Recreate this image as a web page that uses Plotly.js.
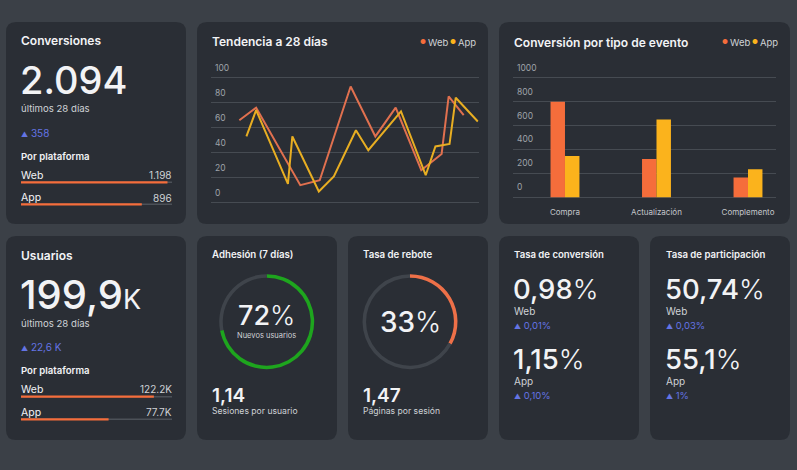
<!DOCTYPE html>
<html>
<head>
<meta charset="utf-8">
<script src="https://cdn.plot.ly/plotly-3.0.1.min.js"></script>
<style>
  html,body{margin:0;padding:0;background:#3b4047;}
  #chart{width:797px;height:470px;}
</style>
</head>
<body>
<div id="chart"></div>
<script>
// ---------------- DATA ----------------
const trendDaysWeb = [0, 1.9, 6.9, 9.1, 12.6, 15.4, 17.7, 20.6, 22.9, 23.7, 25.4];
const trendWeb     = [66, 76, 14, 18, 93, 53, 76, 26, 39, 85, 70];
const trendDaysApp = [0.8, 1.9, 5.5, 6.0, 9.0, 10.7, 13.2, 14.6, 18.3, 21.1, 22.2, 23.8, 24.5, 27.0];
const trendApp     = [53, 74, 15, 53, 9, 21, 58, 42, 73, 22, 45, 47, 84, 65];
const trendTicks   = [0, 20, 40, 60, 80, 100];

const eventCategories = ['Compra', 'Actualización', 'Complemento'];
const eventWeb = [800, 320, 165];
const eventApp = [345, 650, 235];
const eventTicks = [0, 200, 400, 600, 800, 1000];

const platforms = ['Web', 'App'];
const convPlatformLabels = ['1.198', '896'];
const convPlatformBar = [97, 80];
const userPlatformLabels = ['122.2K', '77.7K'];
const userPlatformBar = [88, 58];

const adhesionPct = 72;
const bouncePct = 33;

// ---------------- STYLE ----------------
const W = 797, H = 470;
const FONT = 'Inter, "Noto Sans", sans-serif';
const BG = '#3b4047', CARD = '#2a2e35';
const WHITE = '#f2f3f5', SUB = '#cfd2d6', BLUE = '#6474e4', GRID = '#464b52', TICK = '#9ea3a9';
const C_WEB = '#f56d3b', C_APP = '#fbb31c';
const C_WEB_LINE = '#e0704f', C_APP_LINE = '#e8ae22';

const fx = p => p / W;
const fy = p => 1 - p / H;

function roundRect(x0, y0, x1, y1, r) {
  const X = fx, Y = fy;
  return 'M' + X(x0 + r) + ',' + Y(y0) +
    ' L' + X(x1 - r) + ',' + Y(y0) +
    ' Q' + X(x1) + ',' + Y(y0) + ' ' + X(x1) + ',' + Y(y0 + r) +
    ' L' + X(x1) + ',' + Y(y1 - r) +
    ' Q' + X(x1) + ',' + Y(y1) + ' ' + X(x1 - r) + ',' + Y(y1) +
    ' L' + X(x0 + r) + ',' + Y(y1) +
    ' Q' + X(x0) + ',' + Y(y1) + ' ' + X(x0) + ',' + Y(y1 - r) +
    ' L' + X(x0) + ',' + Y(y0 + r) +
    ' Q' + X(x0) + ',' + Y(y0) + ' ' + X(x0 + r) + ',' + Y(y0) + ' Z';
}
const cards = [
  [6, 22, 186, 224], [197, 22, 488, 224], [499, 22, 790, 224],
  [6, 236, 186, 440], [197, 236, 337, 440], [348, 236, 488, 440],
  [499, 236, 639, 440], [650, 236, 790, 440]
];
const shapes = cards.map(c => ({
  type: 'path', xref: 'paper', yref: 'paper', layer: 'below',
  path: roundRect(c[0], c[1], c[2], c[3], 10),
  fillcolor: CARD, line: {width: 0}
}));

function T(x, y, text, size, o) {
  o = o || {};
  return {
    xref: 'paper', yref: 'paper', x: fx(x), y: fy(y),
    xanchor: o.xanchor || 'left', yanchor: 'middle',
    showarrow: false, text: text, borderpad: 0,
    font: {family: FONT, size: size, color: o.color || WHITE, weight: o.weight || 400}
  };
}
const tri = '<span style="font-size:7px">▲</span> ';
const pct = s => '<span style="font-weight:300">' + s + '</span>';

const annotations = [
  // Card 1
  T(20, 41, 'Conversiones', 12, {weight: 600}),
  T(19, 80, '2.094', 38, {weight: 500}),
  T(20, 109, 'últimos 28 días', 9.6, {color: SUB}),
  T(20, 132.5, tri + '358', 10, {color: BLUE}),
  T(20, 156.5, 'Por plataforma', 9.6, {weight: 600}),
  T(20, 175, platforms[0], 10.5), T(173, 175, convPlatformLabels[0], 10, {xanchor: 'right', color: SUB}),
  T(20, 197.5, platforms[1], 10.5), T(173, 197.5, convPlatformLabels[1], 10, {xanchor: 'right', color: SUB}),
  // Card 4
  T(20, 255.5, 'Usuarios', 12, {weight: 600}),
  T(19, 294, '199,9<span style="font-size:27px;font-weight:400">K</span>', 40, {weight: 500}),
  T(20, 323, 'últimos 28 días', 9.6, {color: SUB}),
  T(20, 347, tri + '22,6 K', 10, {color: BLUE}),
  T(20, 370.7, 'Por plataforma', 9.6, {weight: 600}),
  T(20, 389.3, platforms[0], 10.5), T(173, 389.3, userPlatformLabels[0], 10, {xanchor: 'right', color: SUB}),
  T(20, 412.3, platforms[1], 10.5), T(173, 412.3, userPlatformLabels[1], 10, {xanchor: 'right', color: SUB}),
  // Card 2
  T(211, 41.7, 'Tendencia a 28 días', 12, {weight: 600}),
  T(419, 42, '●', 6.5, {color: C_WEB}), T(427, 42, platforms[0], 9.5, {color: SUB}),
  T(449, 42, '●', 6.5, {color: C_APP}), T(457, 42, platforms[1], 9.5, {color: SUB}),
  // Card 3
  T(513, 42, 'Conversión por tipo de evento', 12, {weight: 600}),
  T(720.5, 42, '●', 6.5, {color: C_WEB}), T(728.5, 42, platforms[0], 9.5, {color: SUB}),
  T(751, 42, '●', 6.5, {color: C_APP}), T(759, 42, platforms[1], 9.5, {color: SUB}),
  // Card 5
  T(211, 255, 'Adhesión (7 días)', 9.7, {weight: 600}),
  T(266.7, 315.5, adhesionPct + pct('%'), 27, {xanchor: 'center', weight: 500}),
  T(266.7, 335.5, 'Nuevos usuarios', 7.5, {xanchor: 'center', color: SUB}),
  T(211, 395, '1,14', 19, {weight: 600}),
  T(211, 410.5, 'Sesiones por usuario', 8.6, {color: SUB}),
  // Card 6
  T(362, 255, 'Tasa de rebote', 9.7, {weight: 600}),
  T(410, 322, bouncePct + pct('%'), 28, {xanchor: 'center', weight: 500}),
  T(362, 395, '1,47', 19, {weight: 600}),
  T(362, 410.5, 'Páginas por sesión', 8.6, {color: SUB}),
  // Card 7
  T(513, 255, 'Tasa de conversión', 9.6, {weight: 600}),
  T(512, 289, '0,98' + pct('%'), 27.5, {weight: 500}),
  T(513, 310.5, 'Web', 10, {color: SUB}),
  T(513, 325, tri + '0,01%', 9.5, {color: BLUE}),
  T(512, 359, '1,15' + pct('%'), 27.5, {weight: 500}),
  T(513, 380.5, 'App', 10, {color: SUB}),
  T(513, 395, tri + '0,10%', 9.5, {color: BLUE}),
  // Card 8
  T(665, 255, 'Tasa de participación', 9.6, {weight: 600}),
  T(664, 289, '50,74' + pct('%'), 27.5, {weight: 500}),
  T(665, 310.5, 'Web', 10, {color: SUB}),
  T(665, 325, tri + '0,03%', 9.5, {color: BLUE}),
  T(664, 359, '55,1' + pct('%'), 27.5, {weight: 500}),
  T(665, 380.5, 'App', 10, {color: SUB}),
  T(665, 395, tri + '1%', 9.5, {color: BLUE})
];

// ---------------- TRACES ----------------
const traces = [];
traces.push({type: 'scatter', mode: 'lines', x: trendDaysWeb, y: trendWeb, xaxis: 'x', yaxis: 'y',
  line: {color: C_WEB_LINE, width: 2}, hoverinfo: 'skip', showlegend: false});
traces.push({type: 'scatter', mode: 'lines', x: trendDaysApp, y: trendApp, xaxis: 'x', yaxis: 'y',
  line: {color: C_APP_LINE, width: 2}, hoverinfo: 'skip', showlegend: false});

const BW = 0.158;
traces.push({type: 'bar', x: eventCategories, y: eventWeb, xaxis: 'x2', yaxis: 'y2',
  width: BW, offset: -BW, marker: {color: C_WEB, line: {width: 0}}, hoverinfo: 'skip', showlegend: false});
traces.push({type: 'bar', x: eventCategories, y: eventApp, xaxis: 'x2', yaxis: 'y2',
  width: BW, offset: 0, marker: {color: C_APP, line: {width: 0}}, hoverinfo: 'skip', showlegend: false});

function progress(vals, xa, ya) {
  traces.push({type: 'bar', orientation: 'h', x: platforms.map(() => 100), y: platforms, xaxis: xa, yaxis: ya,
    width: 0.07, offset: -0.035, marker: {color: '#4c5158', line: {width: 0}}, hoverinfo: 'skip', showlegend: false});
  traces.push({type: 'bar', orientation: 'h', x: vals, y: platforms, xaxis: xa, yaxis: ya,
    width: 0.1, offset: -0.05, marker: {color: C_WEB, line: {width: 0}}, hoverinfo: 'skip', showlegend: false});
}
progress(convPlatformBar, 'x3', 'y3');
progress(userPlatformBar, 'x4', 'y4');

function ring(value, color, cx, cy, r) {
  traces.push({type: 'pie', values: [value, 100 - value], sort: false, direction: 'clockwise', rotation: 0,
    hole: 0.925, textinfo: 'none', hoverinfo: 'skip', showlegend: false,
    marker: {colors: [color, '#3f444b'], line: {width: 0}},
    domain: {x: [fx(cx - r), fx(cx + r)], y: [fy(cy + r), fy(cy - r)]}});
}
ring(adhesionPct, '#1ea51e', 266.7, 321.7, 47.5);
ring(bouncePct, '#ee7048', 410, 321.7, 47.5);

// ---------------- AXES ----------------
const hidden = {visible: false, showgrid: false, zeroline: false, fixedrange: true};
const valueAxis = (range, ticks, dom) => ({
  domain: dom, range: range, tickmode: 'array', tickvals: ticks, ticktext: ticks.map(String),
  showgrid: true, gridcolor: GRID, gridwidth: 1, zeroline: false, showline: false, ticks: '',
  ticklabelposition: 'inside', ticklabelshift: -10, ticklabelstandoff: 1,
  tickfont: {family: FONT, size: 8.5, color: TICK}, fixedrange: true
});

// line chart: 0 -> 202.7px, 100 -> 77.7px (1.25 px/unit)
// bar chart: 0 -> 197.3px, 1000 -> 77.7px (0.1196 px/unit)
const layout = {
  width: W, height: H, margin: {l: 0, r: 0, t: 0, b: 0},
  paper_bgcolor: BG, plot_bgcolor: 'rgba(0,0,0,0)',
  font: {family: FONT, color: WHITE},
  barmode: 'overlay', showlegend: false,
  shapes: shapes, annotations: annotations,
  xaxis: Object.assign({}, hidden, {domain: [fx(211), fx(478.7)], range: [-3.21, 27.1], anchor: 'y'}),
  yaxis: Object.assign(valueAxis([-2, 113], trendTicks, [fy(205.2), fy(61.45)]), {anchor: 'x'}),
  xaxis2: {domain: [fx(513), fx(776)], range: [-0.568, 2.306], anchor: 'y2', showgrid: false, zeroline: false,
    showline: false, ticks: '', tickfont: {family: FONT, size: 8, color: '#c5c8cc'}, ticklabelstandoff: 7, fixedrange: true},
  yaxis2: Object.assign(valueAxis([-15, 1130], eventTicks, [fy(199.1), fy(62.16)]), {anchor: 'x2'}),
  xaxis3: Object.assign({}, hidden, {domain: [fx(21), fx(172)], range: [0, 100], anchor: 'y3'}),
  yaxis3: Object.assign({}, hidden, {domain: [fy(215.3), fy(171.3)], range: [1.5, -0.5], anchor: 'x3', type: 'category'}),
  xaxis4: Object.assign({}, hidden, {domain: [fx(21), fx(172)], range: [0, 100], anchor: 'y4'}),
  yaxis4: Object.assign({}, hidden, {domain: [fy(430.6), fy(385.4)], range: [1.5, -0.5], anchor: 'x4', type: 'category'})
};

Plotly.newPlot('chart', traces, layout, {staticPlot: true, displayModeBar: false});
</script>
</body>
</html>
